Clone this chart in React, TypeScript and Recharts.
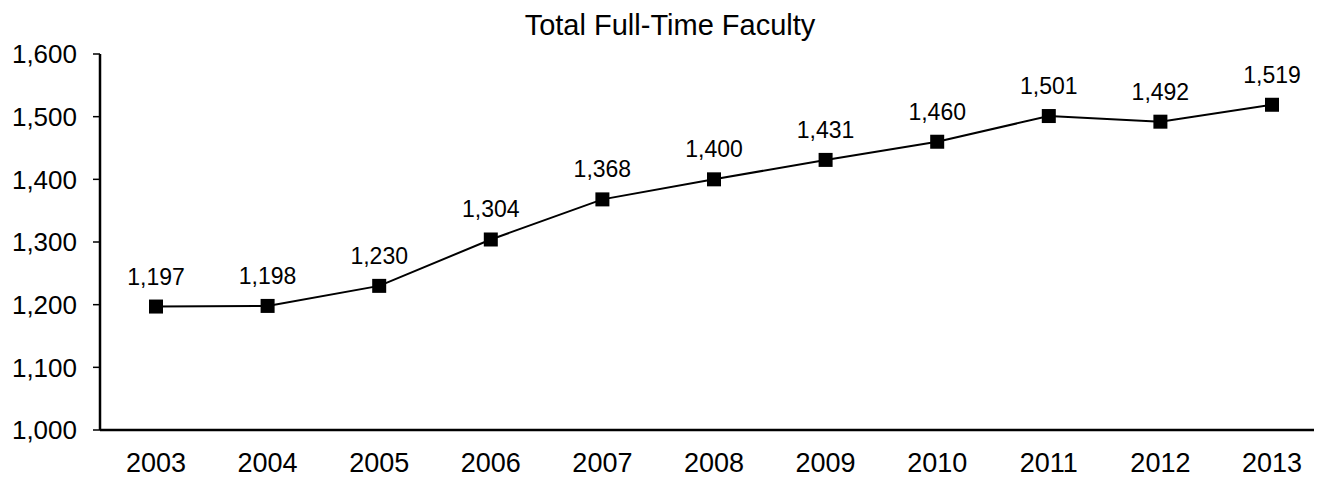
import { LineChart, Line, XAxis, YAxis, LabelList } from 'recharts';

const years = ['2003', '2004', '2005', '2006', '2007', '2008', '2009', '2010', '2011', '2012', '2013'];
const faculty = [1197, 1198, 1230, 1304, 1368, 1400, 1431, 1460, 1501, 1492, 1519];
const yTicks = [1000, 1100, 1200, 1300, 1400, 1500, 1600];

const data = years.map((year, i) => ({ year, faculty: faculty[i] }));

const fmt = (v: number) => v.toLocaleString('en-US');

const SquareDot = (props: any) => {
  const { cx, cy } = props;
  if (cx == null || cy == null) return null;
  return <rect x={cx - 7} y={cy - 7} width={14} height={14} fill="#000" />;
};

const font = '"Liberation Sans", Arial, sans-serif';

const App = () => {
  return (
    <div style={{ position: 'relative', width: 1314, height: 470, fontFamily: font }}>
      <div
        style={{
          position: 'absolute',
          top: 1,
          left: 0,
          width: 1324,
          textAlign: 'center',
          fontSize: 29,
          color: '#000',
        }}
      >
        Total Full-Time Faculty
      </div>
      <LineChart width={1314} height={470} data={data} margin={{ top: 46, right: 0, bottom: 8, left: 0 }}>
        <XAxis
          dataKey="year"
          padding={{ left: 56, right: 50 }}
          tickLine={false}
          tickSize={0}
          tickMargin={23}
          height={40}
          axisLine={{ stroke: '#000', strokeWidth: 2.5 }}
          tick={{ fill: '#000', fontSize: 27, fontFamily: font }}
        />
        <YAxis
          domain={[1000, 1600]}
          ticks={yTicks}
          tickFormatter={fmt}
          width={92}
          tickSize={7}
          tickMargin={16}
          axisLine={{ stroke: '#000', strokeWidth: 2.5 }}
          tickLine={{ stroke: '#000', strokeWidth: 1.5 }}
          tick={{ fill: '#000', fontSize: 26, fontFamily: font }}
        />
        <Line
          dataKey="faculty"
          stroke="#000"
          strokeWidth={2}
          dot={<SquareDot />}
          activeDot={false}
          isAnimationActive={false}
        >
          <LabelList
            dataKey="faculty"
            position="top"
            offset={22}
            formatter={(v: any) => fmt(Number(v))}
            style={{ fill: '#000', fontSize: 23, fontFamily: font }}
          />
        </Line>
      </LineChart>
    </div>
  );
};

export default App;
